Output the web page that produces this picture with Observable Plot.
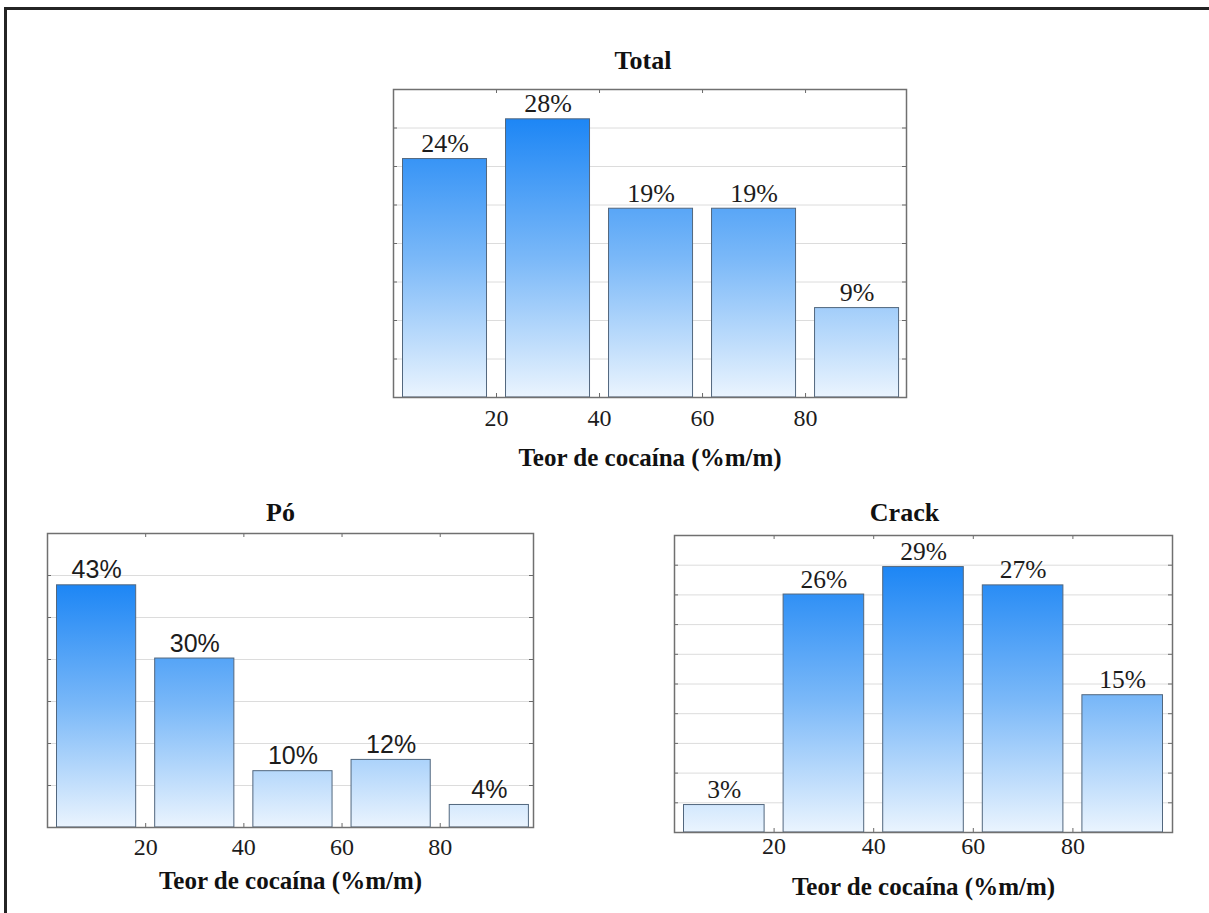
<!DOCTYPE html>
<html>
<head>
<meta charset="utf-8">
<script src="https://cdn.jsdelivr.net/npm/d3@7"></script>
<script src="https://cdn.jsdelivr.net/npm/@observablehq/plot@0.6"></script>
<style>
  html, body { margin: 0; padding: 0; background: #fff; }
  #page { position: relative; width: 1209px; height: 913px; overflow: hidden; background: #fff; }
  #border { position: absolute; left: 4px; top: 7px; width: 1300px; height: 1000px;
            border-top: 3px solid #242424; border-left: 3px solid #242424; }
  .panel { position: absolute; }
</style>
</head>
<body>
<div id="page"><div id="border"></div></div>
<script>
// Cocaine content classes (% m/m) and share of samples in each class
const binEdges = [0, 20, 40, 60, 80, 100];
const xTicks = [20, 40, 60, 80];
const totalPct = [24, 28, 19, 19, 9];
const poPct = [43, 30, 10, 12, 4];
const crackPct = [3, 26, 29, 27, 15];
const panelTitles = ["Total", "Pó", "Crack"];
const xLabel = "Teor de cocaína (%m/m)";

const SERIF = "'Liberation Serif', 'Times New Roman', serif";
const SANS = "'Liberation Sans', Arial, sans-serif";

function rowsFor(values) {
  return values.map((pct, i) => ({lo: binEdges[i], hi: binEdges[i + 1], pct}));
}

// Vertical gradient in panel coordinates: dark blue at the tallest bar, pale at zero
function gradientDefs(id, topValue) {
  return (index, scales, values, dimensions) => {
    const ns = "http://www.w3.org/2000/svg";
    const defs = document.createElementNS(ns, "defs");
    const g = document.createElementNS(ns, "linearGradient");
    g.setAttribute("id", id);
    g.setAttribute("gradientUnits", "userSpaceOnUse");
    g.setAttribute("x1", 0);
    g.setAttribute("x2", 0);
    g.setAttribute("y1", scales.y(topValue));
    g.setAttribute("y2", scales.y(0));
    [[0, "#1d86f5"], [0.5, "#7ab8f8"], [1, "#eaf4fe"]].forEach(([o, c]) => {
      const s = document.createElementNS(ns, "stop");
      s.setAttribute("offset", o);
      s.setAttribute("stop-color", c);
      g.appendChild(s);
    });
    defs.appendChild(g);
    return defs;
  };
}

function panel(cfg) {
  const [L, T, R, B] = cfg.frame;
  const mL = 30, mR = 30, mT = 50, mB = 80;
  const fw = R - L, fh = B - T;
  const rows = rowsFor(cfg.values);
  const grid = d3.range(1, cfg.gridN).map(k => k * cfg.yMax / cfg.gridN);
  const id = "grad-" + cfg.key;

  const chart = Plot.plot({
    width: fw + mL + mR,
    height: fh + mT + mB,
    marginLeft: mL, marginRight: mR, marginTop: mT, marginBottom: mB,
    x: {domain: cfg.xDomain, axis: null},
    y: {domain: [0, cfg.yMax], axis: null},
    style: {background: "transparent", overflow: "visible"},
    marks: [
      gradientDefs(id, d3.max(cfg.values)),
      Plot.ruleY(grid, {stroke: "#dcdcdc", strokeWidth: 1}),
      // small inward ticks along the frame
      Plot.ruleY(grid, {stroke: "#6a6a6a", insetRight: fw - 4}),
      Plot.ruleY(grid, {stroke: "#6a6a6a", insetLeft: fw - 4}),
      Plot.ruleX(xTicks, {stroke: "#6a6a6a", insetTop: fh - 4}),
      Plot.ruleX(xTicks, {stroke: "#6a6a6a", insetBottom: fh - 4}),
      Plot.rect(rows, {
        x1: "lo", x2: "hi", y1: 0, y2: "pct",
        insetLeft: 9.5, insetRight: 9.5,
        fill: `url(#${id})`, stroke: "#52677e", strokeWidth: 1
      }),
      Plot.frame({stroke: "#707070", strokeWidth: 1.5}),
      Plot.text(rows, {
        x: d => (d.lo + d.hi) / 2, y: "pct", text: d => `${d.pct}%`,
        dy: -7, lineAnchor: "bottom",
        fontFamily: cfg.valueFont, fontSize: cfg.valueSize, fill: "#1c1c1c"
      }),
      Plot.text(xTicks, {
        x: d => d, frameAnchor: "bottom", dy: cfg.tickDy, lineAnchor: "bottom",
        text: d => String(d), fontFamily: SERIF, fontSize: 24, fill: "#1c1c1c"
      }),
      Plot.text([cfg.title], {
        frameAnchor: "top", dx: cfg.titleDx, dy: cfg.titleDy, lineAnchor: "bottom",
        fontFamily: SERIF, fontWeight: "bold", fontSize: 26, fill: "#111"
      }),
      Plot.text([xLabel], {
        frameAnchor: "bottom", dy: cfg.labelDy, lineAnchor: "bottom",
        fontFamily: SERIF, fontWeight: "bold", fontSize: 25, fill: "#111"
      })
    ]
  });
  chart.classList.add("panel");
  chart.style.left = (L - mL) + "px";
  chart.style.top = (T - mT) + "px";
  document.getElementById("page").appendChild(chart);
}

panel({
  key: "total", title: panelTitles[0], values: totalPct,
  frame: [393, 89, 906, 397], xDomain: [0, 99.6], yMax: 31, gridN: 8,
  titleDx: -7, titleDy: -21, tickDy: 28, labelDy: 68,
  valueFont: SERIF, valueSize: 26
});
panel({
  key: "po", title: panelTitles[1], values: poPct,
  frame: [47, 533, 533, 827], xDomain: [0, 99], yMax: 52.2, gridN: 7,
  titleDx: -10, titleDy: -13, tickDy: 27, labelDy: 61,
  valueFont: SANS, valueSize: 25
});
panel({
  key: "crack", title: panelTitles[2], values: crackPct,
  frame: [674, 535, 1172, 832], xDomain: [0, 100], yMax: 32.45, gridN: 10,
  titleDx: -19, titleDy: -15, tickDy: 21, labelDy: 62,
  valueFont: SERIF, valueSize: 25.5
});
</script>
</body>
</html>
